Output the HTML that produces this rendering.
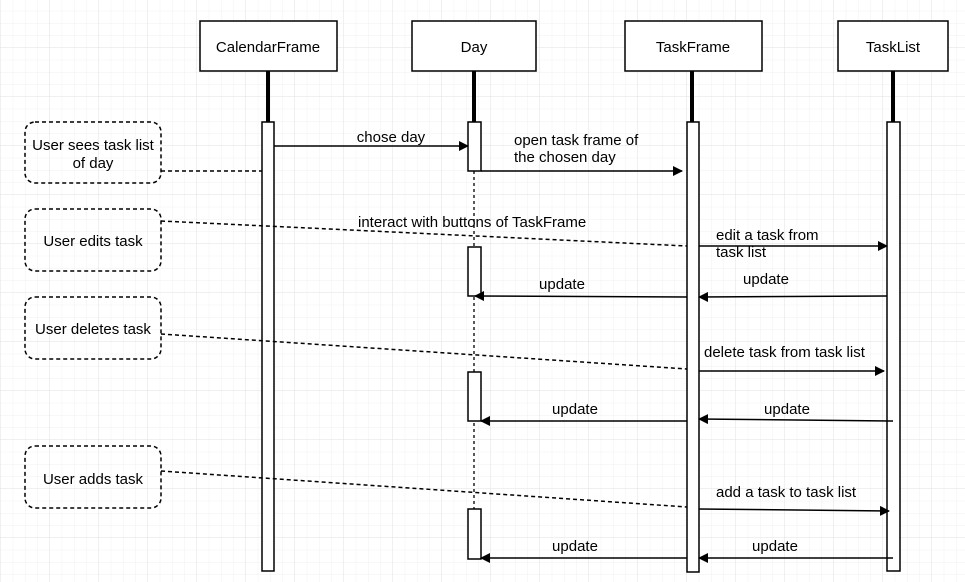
<!DOCTYPE html>
<html><head><meta charset="utf-8"><style>
body{margin:0;background:#fff}
svg{display:block}
text{font-family:"Liberation Sans",Arial,sans-serif;font-size:15px;fill:#000}
</style></head><body>
<svg width="965" height="582" viewBox="0 0 965 582" xmlns="http://www.w3.org/2000/svg">
<defs>
<pattern id="g" width="12.25" height="12.25" patternUnits="userSpaceOnUse" x="1" y="-1">
<path d="M12.25 0V12.25M0 12.25H12.25" stroke="#f0f0f0" stroke-width="1" fill="none"/>
</pattern>
<pattern id="G" width="49" height="49" patternUnits="userSpaceOnUse" x="1" y="-1">
<path d="M49 0V49M0 49H49" stroke="#e2e2e2" stroke-width="1" fill="none"/>
</pattern>
<marker id="a" markerWidth="10" markerHeight="10" refX="9" refY="5" orient="auto" markerUnits="userSpaceOnUse">
<path d="M0,0L10,5L0,10Z" fill="#000"/>
</marker>
</defs>
<rect width="965" height="582" fill="url(#g)"/>
<rect width="965" height="582" fill="url(#G)"/>
<g stroke="#000" stroke-width="1.5" fill="#fff">
<rect x="200" y="21" width="137" height="50"/>
<rect x="412" y="21" width="124" height="50"/>
<rect x="625" y="21" width="137" height="50"/>
<rect x="838" y="21" width="110" height="50"/>
</g>
<g stroke="#000" stroke-width="4">
<line x1="268" y1="71" x2="268" y2="122"/><line x1="474" y1="71" x2="474" y2="122"/>
<line x1="692" y1="71" x2="692" y2="122"/><line x1="893" y1="71" x2="893" y2="122"/>
</g>
<line x1="474" y1="171" x2="474" y2="560" stroke="#000" stroke-width="1.3" stroke-dasharray="3,3"/>
<g stroke="#000" stroke-width="1.5" fill="#fff">
<rect x="262" y="122" width="12" height="449"/>
<rect x="468" y="122" width="13" height="49"/>
<rect x="468" y="247" width="13" height="49"/>
<rect x="468" y="372" width="13" height="49"/>
<rect x="468" y="509" width="13" height="50"/>
<rect x="687" y="122" width="12" height="450"/>
<rect x="887" y="122" width="13" height="449"/>
</g>
<g stroke="#000" stroke-width="1.5" fill="none" stroke-dasharray="4,3">
<rect x="25" y="122" width="136" height="61" rx="10"/>
<rect x="25" y="209" width="136" height="62" rx="10"/>
<rect x="25" y="297" width="136" height="62" rx="10"/>
<rect x="25" y="446" width="136" height="62" rx="10"/>
<line x1="161" y1="171" x2="262" y2="171"/>
<line x1="161" y1="221" x2="687" y2="246"/>
<line x1="161" y1="334" x2="687" y2="369"/>
<line x1="161" y1="471" x2="687" y2="507"/>
</g>
<g stroke="#000" stroke-width="1.5" fill="none" marker-end="url(#a)">
<line x1="274" y1="146" x2="468" y2="146"/>
<line x1="481" y1="171" x2="682" y2="171"/>
<line x1="699" y1="246" x2="887" y2="246"/>
<line x1="687" y1="297" x2="475" y2="296"/>
<line x1="887" y1="296" x2="699" y2="297"/>
<line x1="699" y1="371" x2="884" y2="371"/>
<line x1="687" y1="421" x2="481" y2="421"/>
<line x1="893" y1="421" x2="699" y2="419"/>
<line x1="699" y1="509" x2="889" y2="511"/>
<line x1="687" y1="558" x2="481" y2="558"/>
<line x1="893" y1="558" x2="699" y2="558"/>
</g>
<g text-anchor="middle">
<text x="268" y="52">CalendarFrame</text>
<text x="474" y="52">Day</text>
<text x="693" y="52">TaskFrame</text>
<text x="893" y="52">TaskList</text>
<text x="93" y="150">User sees task list</text>
<text x="93" y="168">of day</text>
<text x="93" y="246">User edits task</text>
<text x="93" y="334">User deletes task</text>
<text x="93" y="484">User adds task</text>
<text x="391" y="142">chose day</text>
<text x="562" y="289">update</text>
<text x="766" y="284">update</text>
<text x="575" y="414">update</text>
<text x="787" y="414">update</text>
<text x="575" y="551">update</text>
<text x="775" y="551">update</text>
</g>
<text x="514" y="145">open task frame of</text>
<text x="514" y="162">the chosen day</text>
<text x="358" y="227">interact with buttons of TaskFrame</text>
<text x="716" y="240">edit a task from</text>
<text x="716" y="257">task list</text>
<text x="704" y="357">delete task from task list</text>
<text x="716" y="497">add a task to task list</text>
</svg>
</body></html>
